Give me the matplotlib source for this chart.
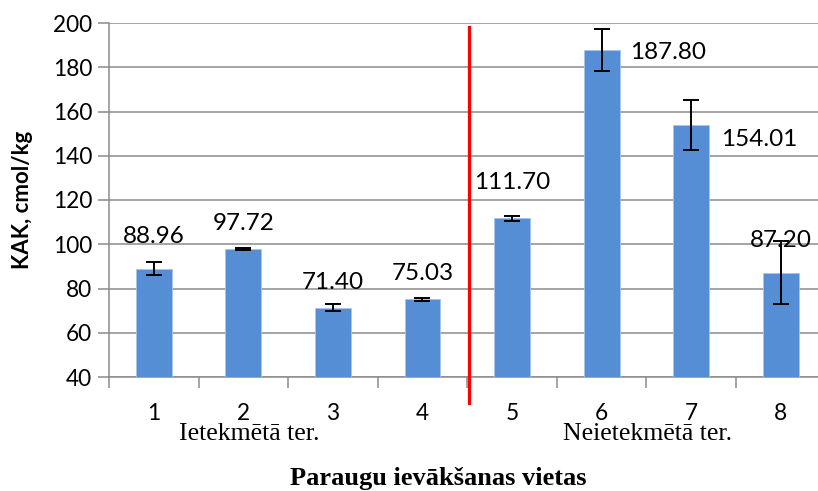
import matplotlib
matplotlib.use("Agg")
import matplotlib.pyplot as plt
from matplotlib.transforms import offset_copy

# ---- data ----
categories = ["1", "2", "3", "4", "5", "6", "7", "8"]
values = [88.96, 97.72, 71.40, 75.03, 111.70, 187.80, 154.01, 87.20]
errors = [2.8, 0.5, 1.4, 0.9, 1.0, 9.6, 11.4, 14.1]
value_labels = ["88.96", "97.72", "71.40", "75.03", "111.70", "187.80", "154.01", "87.20"]
group_labels = ["Ietekmētā ter.", "Neietekmētā ter."]
y_ticks = [40, 60, 80, 100, 120, 140, 160, 180, 200]
divider_x = 3.52          # red separator position (category units)
divider_y = (28.2, 198.2)  # red separator extent (value units)

# ---- layout (label offsets in pixels: dx, dy) ----
label_offsets = [(0, 32), (0, 26), (0, 25), (0, 26), (0, 36), (66, -3), (68, -15), (0, 32)]

W, H = 818, 491
fig = plt.figure(figsize=(W / 100, H / 100), dpi=100)
ax = fig.add_axes([109 / W, 1 - 377 / H, (825.5 - 109) / W, (377 - 23) / H])

x = list(range(len(categories)))
ax.bar(x, values, width=0.4, color="#558ED5", edgecolor="#A9C4EB", linewidth=0.6, zorder=3)
ax.errorbar(x, values, yerr=errors, fmt="none", ecolor="black", elinewidth=1.4,
            capsize=5.5, capthick=1.4, zorder=4)

ax.set_xlim(-0.5, len(categories) - 0.5)
ax.set_ylim(y_ticks[0], y_ticks[-1])
ax.set_yticks(y_ticks)

grid_c = "#8C8C8C"
ax.yaxis.grid(True, color=grid_c, linewidth=1.1, zorder=0)
ax.set_axisbelow(True)
for s in ["top", "right"]:
    ax.spines[s].set_visible(False)
for s in ["left", "bottom"]:
    ax.spines[s].set_color(grid_c)
    ax.spines[s].set_linewidth(1.1)

# category boundaries as major ticks, labels at centers as minor ticks
ax.set_xticks([i - 0.5 for i in range(len(categories) + 1)])
ax.set_xticklabels([])
ax.set_xticks(x, minor=True)
ax.set_xticklabels(categories, minor=True, fontsize=16.3, fontfamily="Lato")
ax.tick_params(axis="x", which="major", direction="out", length=8, width=1.1, color=grid_c)
ax.tick_params(axis="x", which="minor", length=0, pad=19)
ax.tick_params(axis="y", direction="out", length=8, width=1.1, color=grid_c, pad=4)
for t in ax.get_yticklabels():
    t.set_fontsize(16.3)
    t.set_fontfamily("Lato")

# value labels
for xi, v, lab, (dx, dy) in zip(x, values, value_labels, label_offsets):
    tr = offset_copy(ax.transData, fig=fig, x=dx, y=dy, units="dots")
    ax.text(xi, v, lab, transform=tr, ha="center", va="center", fontsize=17.5,
            fontfamily="Lato", zorder=5)

# red separator
ax.plot([divider_x, divider_x], list(divider_y), color="#FF0000", linewidth=2.3,
        clip_on=False, zorder=6)

ax.set_ylabel("KAK, cmol/kg", fontsize=16, fontweight="bold", fontfamily="Lato")
ax.yaxis.set_label_coords(33 / W, 1 - 200 / H, transform=fig.transFigure)

# group labels
fig.text(249 / W, 1 - 440 / H, group_labels[0], ha="center", va="baseline",
         fontsize=18.5, fontfamily="Liberation Serif")
fig.text(648 / W, 1 - 440 / H, group_labels[1], ha="center", va="baseline",
         fontsize=18.5, fontfamily="Liberation Serif")
fig.text(438 / W, 1 - 485 / H, "Paraugu ievākšanas vietas", ha="center", va="baseline",
         fontsize=19, fontweight="bold", fontfamily="Liberation Serif")

fig.savefig("out.png", dpi=100)
